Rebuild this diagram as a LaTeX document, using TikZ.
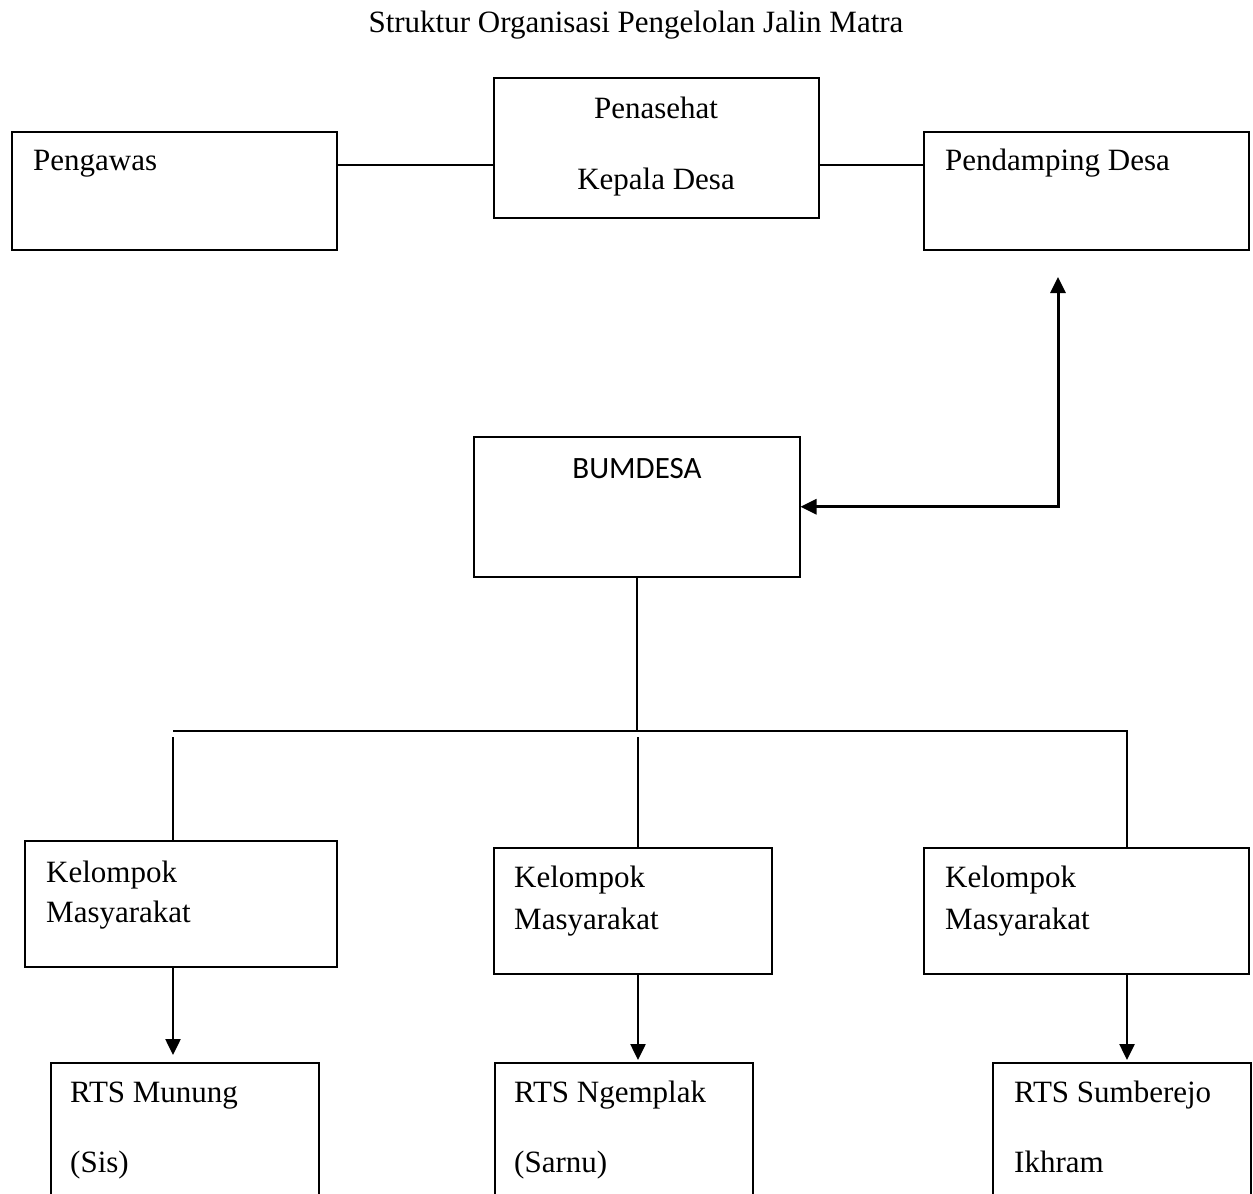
\documentclass[tikz,border=0pt]{standalone}
\usepackage{fontspec}
\setmainfont{Liberation Serif}
\newfontfamily\calibri{Carlito}
\usepackage{tikz}
\usetikzlibrary{arrows.meta,calc}

\begin{document}
\begin{tikzpicture}[x=1pt, y=-1pt, line cap=butt, line join=miter,
    box/.style={draw, line width=1.5pt, inner sep=0pt, anchor=north west},
    txt/.style={anchor=base west, inner sep=0pt, font=\fontsize{31}{37}\selectfont},
    conn/.style={line width=1.5pt},
    arr/.style={line width=2.5pt, -{Triangle[length=16pt,width=15pt]}},
    >={Triangle[length=16pt,width=15pt]}]
  \useasboundingbox (0,0) rectangle (1253,1194);
  \clip (0,0) rectangle (1253,1194);

  % Title
  \node[txt, anchor=base] (title) at (636,32) {Struktur Organisasi Pengelolan Jalin Matra};

  % Top row
  \node[box, minimum width=325pt, minimum height=118pt] (peng) at (11,131) {};
  \node[box, minimum width=325pt, minimum height=140pt] (pen) at (493,77) {};
  \node[box, minimum width=325pt, minimum height=118pt] (pend) at (923,131) {};
  \node[txt] (pengT) at (33,170) {Pengawas};
  \node[txt, anchor=base] (penT1) at (656,118) {Penasehat};
  \node[txt, anchor=base] (penT2) at (656,189) {Kepala Desa};
  \node[txt] (pendT) at (945,170) {Pendamping Desa};
  \draw[conn] ($(peng.north east)+(0,34)$) -- ($(pen.north west)+(0,88)$);
  \draw[conn] ($(pen.north east)+(0,88)$) -- ($(pend.north west)+(0,34)$);

  % BUMDESA
  \node[box, minimum width=326pt, minimum height=140pt] (bum) at (473,436) {};
  \node[anchor=base, inner sep=0pt, font=\calibri\fontsize{31}{37}\selectfont] (bumT) at (637,478) {BUMDESA};
  \coordinate (Up) at (1058,277);
  \draw[line width=3pt, <->] (Up) |- (bum.east);

  % Distribution line
  \coordinate (L) at (173,731);
  \coordinate (M) at (638,731);
  \coordinate (R) at (1127,731);
  \draw[conn] (bum.south -| 637,0) -- (637,731);
  \draw[conn] (L) -- (R) -- ++(0,116);

  % Kelompok Masyarakat
  \node[box, minimum width=312pt, minimum height=126pt] (kel1) at (24,840) {};
  \node[box, minimum width=278pt, minimum height=126pt] (kel2) at (493,847) {};
  \node[box, minimum width=325pt, minimum height=126pt] (kel3) at (923,847) {};
  \draw[conn] ($(L)+(0,6)$) -- (L |- kel1.north);
  \draw[conn] ($(M)+(0,6)$) -- (M |- kel2.north);
  \node[txt] (k1a) at (46,882) {Kelompok};
  \node[txt] (k1b) at (46,922) {Masyarakat};
  \node[txt] (k2a) at (514,887) {Kelompok};
  \node[txt] (k2b) at (514,929) {Masyarakat};
  \node[txt] (k3a) at (945,887) {Kelompok};
  \node[txt] (k3b) at (945,929) {Masyarakat};

  % RTS
  \node[box, minimum width=268pt, minimum height=160pt] (rts1) at (50,1062) {};
  \node[box, minimum width=258pt, minimum height=160pt] (rts2) at (494,1062) {};
  \node[box, minimum width=258pt, minimum height=160pt] (rts3) at (992,1062) {};
  \draw[arr, shorten >=7pt] (kel1.south -| L) -- (rts1.north -| L);
  \draw[arr, shorten >=2pt] (kel2.south -| M) -- (rts2.north -| M);
  \draw[arr, shorten >=2pt] (kel3.south -| R) -- (rts3.north -| R);
  \node[txt] (r1a) at (70,1102) {RTS Munung};
  \node[txt] (r1b) at (70,1172) {(Sis)};
  \node[txt] (r2a) at (514,1102) {RTS Ngemplak};
  \node[txt] (r2b) at (514,1172) {(Sarnu)};
  \node[txt] (r3a) at (1014,1102) {RTS Sumberejo};
  \node[txt] (r3b) at (1014,1172) {Ikhram};
\end{tikzpicture}
\end{document}
